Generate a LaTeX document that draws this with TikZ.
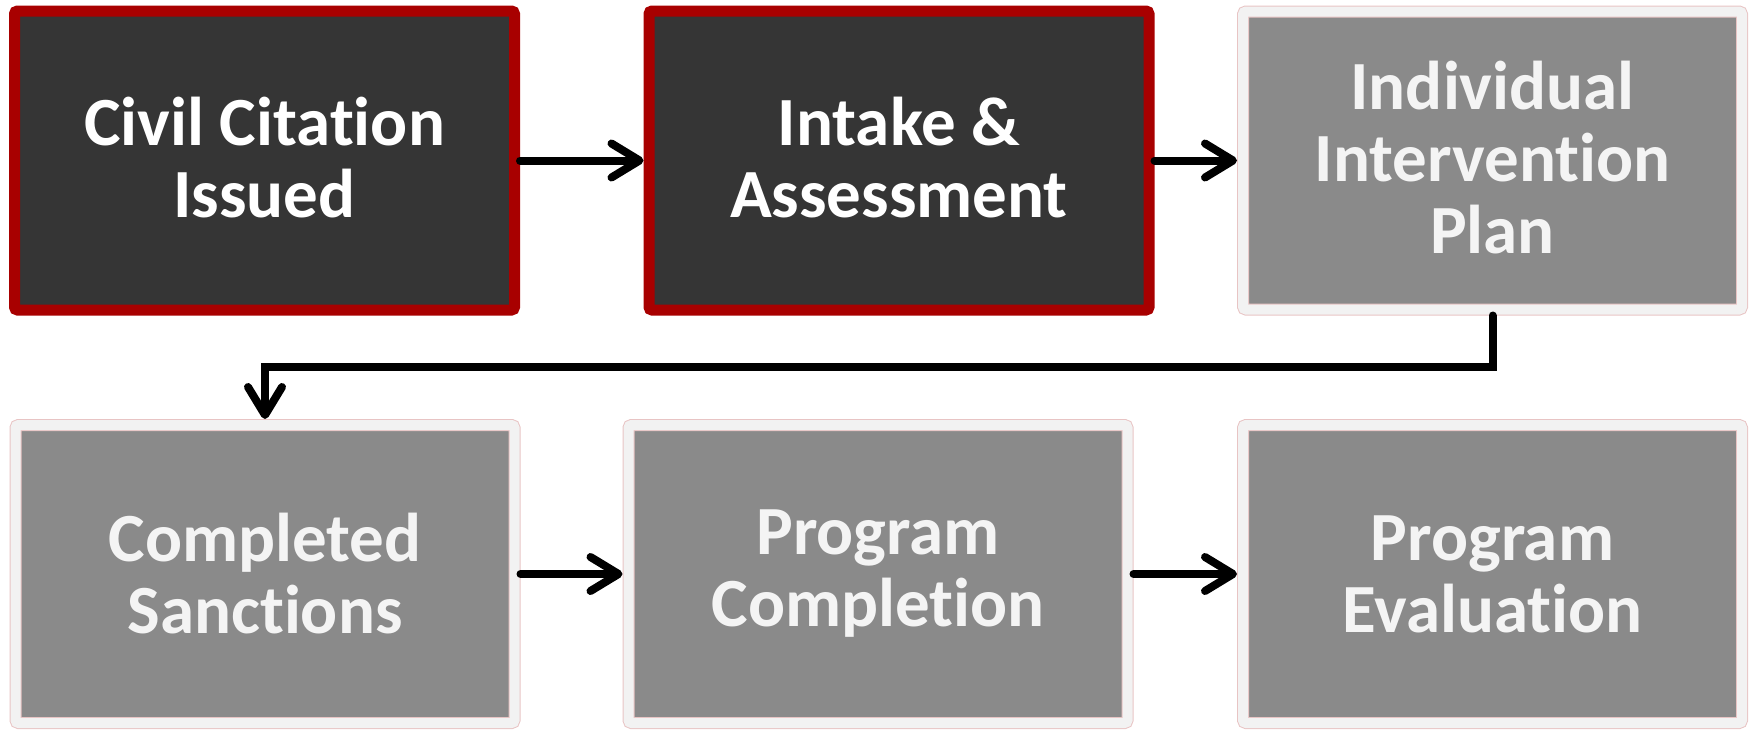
\documentclass[tikz,border=0pt]{standalone}
\usepackage{fontspec}
\setmainfont{Carlito}[Ligatures={NoCommon}]
\usetikzlibrary{arrows.meta}
\definecolor{redborder}{HTML}{A80000}
\definecolor{darkfill}{HTML}{353535}
\definecolor{grayfill}{HTML}{8A8A8A}
\definecolor{lightborder}{HTML}{F2F2F2}
\definecolor{pinkedge}{HTML}{E8C4C4}
\definecolor{lighttext}{HTML}{F4F4F4}
\newcommand{\lift}{\rule[-7pt]{0pt}{7pt}}
\tikzset{
  boxtext/.style={align=center, font=\fontsize{69}{72}\selectfont\bfseries},
  redbox/.style={boxtext, draw=redborder, line width=11pt, fill=darkfill, rounded corners=3pt,
    minimum width=500pt, minimum height=299pt, outer sep=5.5pt, inner sep=0pt,
    text=white},
  graybox/.style={boxtext, draw=pinkedge, line width=1pt, double=lightborder, double distance=10pt,
    fill=grayfill, rounded corners=3pt,
    minimum width=499pt, minimum height=298pt, outer sep=6pt, inner sep=0pt,
    text=lighttext},
  flow/.style={line width=8pt, line cap=round, line join=miter,
    -{Straight Barb[length=28pt,width=34pt,line cap=round,line join=round]}}
}
\begin{document}
\begin{tikzpicture}[x=1pt,y=-1pt]
\useasboundingbox (0,0) rectangle (1753,729);
\node[redbox]  (b1) at (264.5,160.5) {Civil Citation\\Issued\lift};
\node[redbox]  (b2) at (899,160.5) {Intake \&\\Assessment\lift};
\node[graybox] (b3) at (1492.5,160.5) {Individual\\Intervention\\Plan\lift};
\node[graybox] (b4) at (265,574) {Completed\\Sanctions};
\node[graybox] (b5) at (878,574) {Program\\Completion};
\node[graybox] (b6) at (1492.5,574) {Program\\Evaluation};
\draw[flow] (b1.east) -- (b2.west);
\draw[flow] (b2.east) -- (b3.west);
\draw[flow] (b3.south) -- ++(0,51) -| (b4.north);
\draw[flow] (b4.east) -- (b5.west);
\draw[flow] (b5.east) -- (b6.west);
\end{tikzpicture}
\end{document}
